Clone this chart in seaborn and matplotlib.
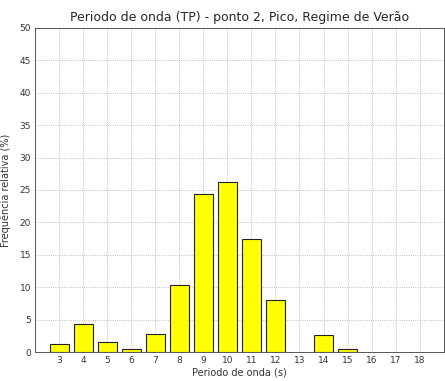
import pandas as pd
import numpy as np
import matplotlib.pyplot as plt
import seaborn as sns

periodos = [3, 4, 5, 6, 7, 8, 9, 10, 11, 12, 14, 15]
frequencia = [1.3, 4.3, 1.6, 0.4, 2.8, 10.4, 24.3, 26.2, 17.4, 8.1, 2.7, 0.5]
ticks_x = list(range(3, 19))
ticks_y = list(range(0, 51, 5))

df = pd.DataFrame({'Periodo': periodos, 'Freq': frequencia})

sns.set_style('white')
plt.rcParams['font.family'] = ['DejaVu Sans']

fig = plt.figure(figsize=(4.45, 3.81), dpi=100)
ax = fig.add_axes([0.079, 0.076, 0.918, 0.851])

sns.barplot(data=df, x='Periodo', y='Freq', native_scale=True, color='#FFFF00',
            saturation=1, edgecolor='#222222', linewidth=0.8, width=0.8, ax=ax)

ax.set_xlim(2, 19)
ax.set_ylim(0, 50)
ax.set_xticks(ticks_x)
ax.set_yticks(ticks_y)
ax.grid(True, linestyle=':', color='#aaaaaa', linewidth=0.6)
ax.set_axisbelow(True)
ax.tick_params(labelsize=6.5, length=3, direction='in', color='#555555',
               labelcolor='#333333', pad=3)
for s in ax.spines.values():
    s.set_color('#555555')
    s.set_linewidth(0.7)

ax.set_xlabel('Periodo de onda (s)', fontsize=7, color='#333333', labelpad=2)
ax.set_ylabel('Frequência relativa (%)', fontsize=7, color='#333333', labelpad=6)
ax.set_title('Periodo de onda (TP) - ponto 2, Pico, Regime de Verão', fontsize=9, pad=5)

plt.savefig('out.png', dpi=100)
plt.close()
